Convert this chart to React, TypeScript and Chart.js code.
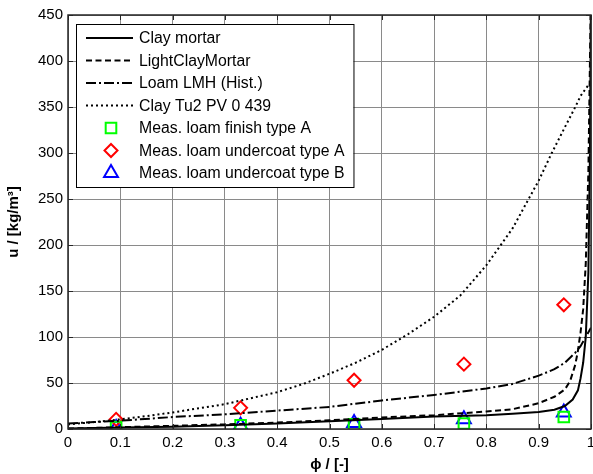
import React, { useEffect, useRef } from "react";
import { Chart, registerables } from "chart.js";

Chart.register(...registerables);

// ---- data ----
const phiClayMortar = [0, 0.05, 0.1, 0.2, 0.3, 0.4, 0.5, 0.6, 0.7, 0.8, 0.85, 0.9, 0.93, 0.95, 0.965, 0.975, 0.98, 0.985, 0.99, 0.995, 0.998, 1.0];
const uClayMortar = [0.5, 1, 1.5, 2.5, 4, 6, 8.5, 11, 13.5, 15, 16.5, 18.5, 21, 25, 32, 42, 55, 72, 100, 170, 300, 480];

const phiLightClay = [0, 0.1, 0.2, 0.3, 0.4, 0.5, 0.6, 0.7, 0.8, 0.85, 0.9, 0.93, 0.95, 0.96, 0.97, 0.975, 0.98, 0.985, 0.99, 0.995, 1.0];
const uLightClay = [0.5, 2, 3.5, 5, 7, 9.5, 12.5, 15, 19, 21.5, 28, 35, 43, 52, 70, 85, 105, 130, 180, 280, 480];

const phiLoamLMH = [0, 0.05, 0.1, 0.2, 0.3, 0.4, 0.5, 0.6, 0.7, 0.8, 0.85, 0.9, 0.93, 0.95, 0.97, 0.98, 0.99, 1.0];
const uLoamLMH = [6, 7.5, 9, 13, 16, 20, 24, 31, 37, 44, 49, 58, 65, 72, 83, 90, 100, 110];

const phiClayTu2 = [0, 0.05, 0.1, 0.15, 0.2, 0.3, 0.4, 0.45, 0.5, 0.55, 0.6, 0.65, 0.7, 0.75, 0.8, 0.85, 0.9, 0.925, 0.95, 0.97, 0.98, 0.99, 0.994];
const uClayTu2 = [5, 7.5, 10.5, 14, 18, 27, 40, 49, 60, 72, 86, 103, 122, 145, 178, 218, 270, 300, 328, 350, 362, 370, 373];

const phiMeas = [0.092, 0.33, 0.547, 0.757, 0.948];
const uFinishA = [2, 4, 5, 6, 13];
const uUndercoatA = [10.5, 23, 53, 70.5, 135];
const uUndercoatB = [1, 3.5, 6.5, 10.5, 18];

const xTickValues = [0, 0.1, 0.2, 0.3, 0.4, 0.5, 0.6, 0.7, 0.8, 0.9, 1];
const xTickLabels = ["0", "0.1", "0.2", "0.3", "0.4", "0.5", "0.6", "0.7", "0.8", "0.9", "1"];
const yTickValues = [0, 50, 100, 150, 200, 250, 300, 350, 400, 450];
const yTickLabels = ["0", "50", "100", "150", "200", "250", "300", "350", "400", "450"];

const seriesLabels = [
  "Clay mortar",
  "LightClayMortar",
  "Loam LMH (Hist.)",
  "Clay Tu2 PV 0 439",
  "Meas. loam finish type A",
  "Meas. loam undercoat type A",
  "Meas. loam undercoat type B",
];

const FONT = "'Liberation Sans', Arial, Helvetica, sans-serif";

function pts(xs: number[], ys: number[]) {
  return xs.map((x, i) => ({ x, y: ys[i] }));
}

const framePlugin = {
  id: "frame",
  afterDatasetsDraw(chart: any) {
    const { ctx, chartArea, scales } = chart;
    const { left, right, top, bottom } = chartArea;
    ctx.save();
    ctx.strokeStyle = "#262626";
    ctx.lineWidth = 1;
    ctx.beginPath();
    xTickValues.forEach((v) => {
      const px = Math.round(scales.x.getPixelForValue(v)) + 0.5;
      ctx.moveTo(px, bottom);
      ctx.lineTo(px, bottom - 5);
      ctx.moveTo(px, top);
      ctx.lineTo(px, top + 5);
    });
    yTickValues.forEach((v) => {
      const py = Math.round(scales.y.getPixelForValue(v)) + 0.5;
      ctx.moveTo(left, py);
      ctx.lineTo(left + 5, py);
      ctx.moveTo(right, py);
      ctx.lineTo(right - 5, py);
    });
    ctx.stroke();
    ctx.lineWidth = 1.5;
    ctx.strokeRect(left, top, right - left, bottom - top);
    ctx.restore();
  },
};

function drawMarker(ctx: CanvasRenderingContext2D, style: string, x: number, y: number, r: number) {
  ctx.beginPath();
  if (style === "rect") {
    const s = Math.SQRT1_2 * r;
    ctx.rect(x - s, y - s, 2 * s, 2 * s);
  } else if (style === "rectRot") {
    ctx.moveTo(x, y - r);
    ctx.lineTo(x + r, y);
    ctx.lineTo(x, y + r);
    ctx.lineTo(x - r, y);
    ctx.closePath();
  } else if (style === "triangle") {
    const a = (2 * Math.PI) / 3;
    ctx.moveTo(x, y - r);
    ctx.lineTo(x + Math.sin(a) * r, y - Math.cos(a) * r);
    ctx.lineTo(x + Math.sin(2 * a) * r, y - Math.cos(2 * a) * r);
    ctx.closePath();
  }
  ctx.stroke();
}

const legendPlugin = {
  id: "boxLegend",
  afterDraw(chart: any) {
    const { ctx } = chart;
    const datasets = chart.data.datasets;
    const boxLeft = 76;
    const boxTop = 24;
    const rowH = 22.5;
    const firstRow = 38;
    const lineX0 = 86;
    const lineX1 = 133;
    const markX = 111;
    const textX = 139;
    ctx.save();
    ctx.font = `15.8px ${FONT}`;
    let maxW = 0;
    datasets.forEach((d: any) => {
      maxW = Math.max(maxW, ctx.measureText(d.label).width);
    });
    const boxRight = textX + maxW + 9;
    const boxBottom = firstRow + rowH * (datasets.length - 1) + 14;
    ctx.fillStyle = "#ffffff";
    ctx.fillRect(boxLeft, boxTop, boxRight - boxLeft, boxBottom - boxTop);
    ctx.strokeStyle = "#000";
    ctx.lineWidth = 1;
    ctx.strokeRect(boxLeft + 0.5, boxTop + 0.5, boxRight - boxLeft, boxBottom - boxTop);

    datasets.forEach((d: any, i: number) => {
      const y = firstRow + i * rowH;
      ctx.save();
      ctx.strokeStyle = d.borderColor;
      ctx.lineWidth = d.borderWidth;
      if (d.showLine) {
        ctx.setLineDash(d.borderDash || []);
        ctx.beginPath();
        ctx.moveTo(lineX0, y);
        ctx.lineTo(lineX1, y);
        ctx.stroke();
      } else {
        drawMarker(ctx, d.pointStyle, markX, y, d.pointRadius);
      }
      ctx.restore();
      ctx.fillStyle = "#000";
      ctx.textBaseline = "middle";
      ctx.textAlign = "left";
      ctx.fillText(d.label, textX, y + 1);
    });
    ctx.restore();
  },
};

export default function App() {
  const canvasRef = useRef<HTMLCanvasElement | null>(null);

  useEffect(() => {
    const canvas = canvasRef.current;
    if (!canvas) return;
    const lineBase = {
      showLine: true,
      pointRadius: 0,
      pointHoverRadius: 0,
      borderColor: "#000000",
      backgroundColor: "#000000",
      borderWidth: 2,
      tension: 0,
      borderCapStyle: "butt",
    };
    const markBase = {
      showLine: false,
      backgroundColor: "rgba(0,0,0,0)",
      borderWidth: 2,
    };
    const chart = new Chart(canvas, {
      type: "scatter",
      data: {
        datasets: [
          { ...lineBase, label: seriesLabels[0], data: pts(phiClayMortar, uClayMortar), borderDash: [] },
          { ...lineBase, label: seriesLabels[1], data: pts(phiLightClay, uLightClay), borderDash: [6, 3.5] },
          { ...lineBase, label: seriesLabels[2], data: pts(phiLoamLMH, uLoamLMH), borderDash: [10, 3, 2, 3] },
          { ...lineBase, label: seriesLabels[3], data: pts(phiClayTu2, uClayTu2), borderDash: [2, 3] },
          { ...markBase, label: seriesLabels[4], data: pts(phiMeas, uFinishA), borderColor: "#00ff00", pointStyle: "rect", pointRadius: 7.5 },
          { ...markBase, label: seriesLabels[5], data: pts(phiMeas, uUndercoatA), borderColor: "#ff0000", pointStyle: "rectRot", pointRadius: 6.5 },
          { ...markBase, label: seriesLabels[6], data: pts(phiMeas, uUndercoatB), borderColor: "#0000ff", pointStyle: "triangle", pointRadius: 8 },
        ] as any,
      },
      options: {
        animation: false,
        responsive: false,
        devicePixelRatio: 1,
        events: [],
        layout: { padding: { left: 0, top: 15, right: 25, bottom: 0 } },
        plugins: {
          legend: { display: false },
          tooltip: { enabled: false },
        },
        scales: {
          x: {
            type: "linear",
            min: 0,
            max: 1,
            afterFit: (s: any) => {
              s.height = 45;
            },
            afterBuildTicks: (s: any) => {
              s.ticks = xTickValues.map((v) => ({ value: v }));
            },
            ticks: {
              padding: 5,
              color: "#000",
              font: { family: FONT, size: 15 },
              maxRotation: 0,
              autoSkip: false,
              callback: (v: any) => {
                const i = xTickValues.findIndex((t) => Math.abs(t - v) < 1e-9);
                return i >= 0 ? xTickLabels[i] : "";
              },
            },
            grid: { color: "#8a8a8a", lineWidth: 1, drawTicks: false },
            border: { display: false },
            title: {
              display: true,
              text: "ϕ / [-]",
              color: "#000",
              font: { family: FONT, size: 15, weight: "bold" },
              padding: { top: 0, bottom: 0 },
            },
          },
          y: {
            type: "linear",
            min: 0,
            max: 450,
            afterFit: (s: any) => {
              s.width = 68;
            },
            afterBuildTicks: (s: any) => {
              s.ticks = yTickValues.map((v) => ({ value: v }));
            },
            ticks: {
              padding: 5,
              color: "#000",
              font: { family: FONT, size: 15 },
              autoSkip: false,
              callback: (v: any) => {
                const i = yTickValues.indexOf(v);
                return i >= 0 ? yTickLabels[i] : "";
              },
            },
            grid: { color: "#8a8a8a", lineWidth: 1, drawTicks: false },
            border: { display: false },
            title: {
              display: true,
              text: "u / [kg/m³]",
              color: "#000",
              font: { family: FONT, size: 15, weight: "bold" },
              padding: { top: 5, bottom: 0 },
            },
          },
        },
      } as any,
      plugins: [framePlugin, legendPlugin],
    });
    return () => chart.destroy();
  }, []);

  return (
    <div
      style={{
        position: "absolute",
        left: 0,
        top: 0,
        width: 593,
        height: 474,
        overflow: "hidden",
        background: "#ffffff",
      }}
    >
      <canvas ref={canvasRef} width={616} height={474} style={{ width: 616, height: 474, display: "block" }} />
    </div>
  );
}
